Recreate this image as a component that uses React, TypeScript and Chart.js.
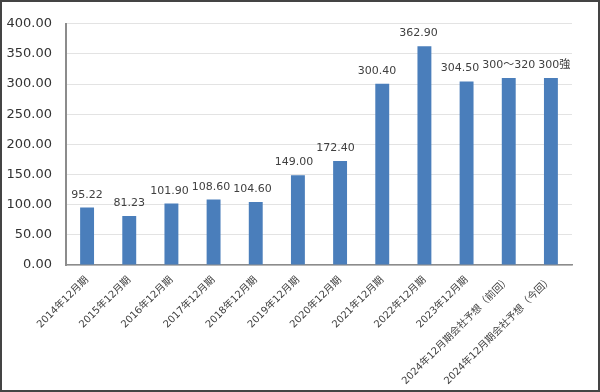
import React, { useEffect, useRef } from 'react';
import { Chart, registerables } from 'chart.js';
Chart.register(...registerables);

const categories = [
  '2014年12月期', '2015年12月期', '2016年12月期', '2017年12月期', '2018年12月期',
  '2019年12月期', '2020年12月期', '2021年12月期', '2022年12月期', '2023年12月期',
  '2024年12月期会社予想（前回）', '2024年12月期会社予想（今回）',
];
const values = [95.22, 81.23, 101.9, 108.6, 104.6, 149.0, 172.4, 300.4, 362.9, 304.5, 310, 310];
const valueLabels = ['95.22', '81.23', '101.90', '108.60', '104.60', '149.00', '172.40', '300.40', '362.90', '304.50', '300〜320', '300強'];
const yMin = 0;
const yMax = 400;
const yStep = 50;

const FONT = "'DejaVu Sans', 'Noto Sans CJK JP', sans-serif";

const labelPlugin = {
  id: 'valueLabels',
  afterDatasetsDraw(chart: any) {
    const ctx = chart.ctx;
    const meta = chart.getDatasetMeta(0);
    ctx.save();
    ctx.font = `11px ${FONT}`;
    ctx.fillStyle = '#404040';
    ctx.textAlign = 'left';
    ctx.textBaseline = 'alphabetic';
    const n = meta.data.length;
    const widths = meta.data.map((_: any, i: number) => ctx.measureText(valueLabels[i]).width);
    const lefts = meta.data.map((bar: any, i: number) => bar.x - widths[i] / 2);
    // resolve collisions between neighbouring labels (only where they actually overlap)
    for (let i = 1; i < n; i++) {
      const overlap = lefts[i - 1] + widths[i - 1] + 3 - lefts[i];
      if (overlap > 0) {
        lefts[i - 1] -= overlap / 2;
        lefts[i] += overlap / 2;
        for (let j = i - 1; j > 0; j--) {
          const o = lefts[j - 1] + widths[j - 1] + 3 - lefts[j];
          if (o > 0) lefts[j - 1] -= o; else break;
        }
      }
    }
    meta.data.forEach((bar: any, i: number) => {
      ctx.fillText(valueLabels[i], lefts[i], bar.y - 10);
    });
    ctx.restore();
  },
};

export default function App() {
  const ref = useRef<HTMLCanvasElement>(null);
  useEffect(() => {
    document.body.style.margin = '0';
    const chart = new Chart(ref.current!, {
      type: 'bar',
      data: {
        labels: categories,
        datasets: [{
          data: values,
          backgroundColor: '#4a7ebb',
          barPercentage: 0.33,
          categoryPercentage: 1,
        }],
      },
      options: {
        animation: false,
        responsive: false,
        layout: { padding: { top: 21, right: 26, left: 0, bottom: 0 } },
        plugins: { legend: { display: false }, tooltip: { enabled: false } },
        scales: {
          x: {
            grid: { display: false, drawTicks: false },
            border: { color: '#8c8c8c', width: 1.5 },
            ticks: {
              minRotation: 45, maxRotation: 45, autoSkip: false,
              font: { family: FONT, size: 10 }, color: '#404040', padding: 9,
            },
            afterFit: (s: any) => { s.height = 125; },
          },
          y: {
            min: yMin, max: yMax,
            ticks: {
              stepSize: yStep,
              callback: (v: any) => Number(v).toFixed(2),
              font: { family: FONT, size: 13 }, color: '#333333', padding: 14,
            },
            grid: { color: '#e3e3e3', drawTicks: false },
            border: { display: true, color: '#8c8c8c', width: 2 },
            afterFit: (s: any) => { s.width = 64; },
          },
        },
      },
      plugins: [labelPlugin],
    });
    return () => chart.destroy();
  }, []);
  return (
    <div style={{ position: 'absolute', left: 0, top: 0, width: 600, height: 392, border: '2px solid #444', boxSizing: 'border-box', background: '#fff' }}>
      <canvas ref={ref} width={596} height={388} style={{ display: 'block' }} />
    </div>
  );
}
